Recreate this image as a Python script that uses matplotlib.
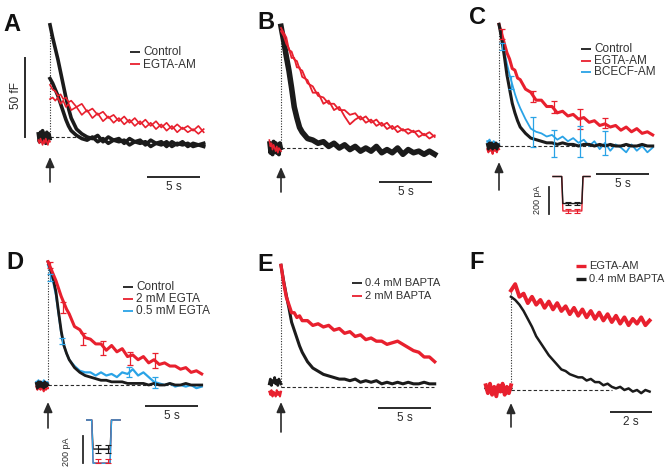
import matplotlib
matplotlib.use("Agg")
import matplotlib.pyplot as plt

plt.rcParams['font.family'] = ['Liberation Sans', 'DejaVu Sans']

# --- DATA (capacitance in fF, time in s after the stimulus) ---
T_PRE = [-1.1, -1.0, -0.9, -0.8, -0.7, -0.6, -0.5, -0.4, -0.3, -0.2, -0.1, 0.0]
T_POST = [0, 0.25, 0.5, 0.75, 1.0, 1.25, 1.5, 1.75, 2.0, 2.5, 3.0, 3.5, 4.0, 4.5, 5.0, 5.5, 6.0,
          6.5, 7.0, 7.5, 8.0, 8.5, 9.0, 9.5, 10.0, 10.5, 11.0, 11.5, 12.0, 12.5, 13.0, 13.5, 14.0, 14.5]
T_PRE_F = [-1.2, -1.1, -1.0, -0.9, -0.8, -0.7, -0.6, -0.5, -0.4, -0.3, -0.2, -0.1, 0.0]
T_POST_F = [0, 0.2, 0.4, 0.6, 0.8, 1.0, 1.2, 1.4, 1.6, 1.8, 2.0, 2.2, 2.4, 2.6, 2.8, 3.0, 3.2,
            3.4, 3.6, 3.8, 4.0, 4.2, 4.4, 4.6, 4.8, 5.0, 5.2, 5.4, 5.6, 5.8, 6.0, 6.2, 6.4, 6.6]

# A
A_PRE_CTRL = [2, -3, 3, -2, 4, -3, 2, -4, 3, -2, 2, -1]
A_PRE_EGTA = [-2, -4, -1, -3, -5, -2, -4, -1, -3, -5, -2, -3]
A_CTRL_HI = [71, 63, 56, 49, 41, 33, 25, 18, 12, 5, 2, 0, -1, 1, -3, 0, -2, -1, -4, -1, -3, -2,
             -5, -2, -4, -3, -6, -3, -5, -3, -6, -4, -5, -4]
A_CTRL_LO = [37, 34, 30, 26, 21, 16, 11, 7, 4, 1, -1, -2, 0, -3, -1, -4, -2, -3, -2, -5, -3, -4,
             -3, -6, -4, -5, -3, -6, -4, -5, -4, -6, -5, -6]
A_EGTA_HI = [33, 30, 29, 26, 27, 24, 25, 22, 23, 19, 21, 16, 18, 14, 16, 12, 14, 10, 13, 9, 12, 8,
             11, 7, 10, 6, 9, 5, 8, 5, 7, 4, 7, 3]
A_EGTA_LO = [24, 25, 23, 25, 21, 23, 19, 21, 17, 19, 14, 17, 12, 15, 10, 13, 9, 12, 8, 11, 7, 10,
             6, 9, 5, 8, 4, 7, 3, 6, 3, 5, 2, 5]

# B
B_PRE_CTRL = [3, -3, 2, -4, 4, -2, 3, -3, 2, -4, 3, 0]
B_PRE_EGTA = [5, 1, 3, -1, 2, 0, -2, 1, -3, 0, -1, -2]
B_CTRL = [77, 68, 58, 49, 38, 26, 19, 13, 10, 6, 5, 3, 4, 1, 3, 0, 2, -1, 1, -2, 0, -2, 1, -3,
          -1, -3, 0, -4, -1, -3, -2, -4, -2, -4]
B_EGTA_HI = [76, 73, 70, 62, 61, 56, 55, 50, 49, 41, 39, 33, 32, 28, 28, 24, 24, 21, 22, 18, 20,
             16, 18, 14, 16, 12, 14, 11, 12, 10, 11, 8, 10, 7]
B_EGTA_LO = [74, 71, 66, 63, 57, 57, 51, 51, 45, 43, 35, 35, 28, 30, 24, 26, 20, 15, 18, 20, 16,
             18, 14, 16, 12, 14, 10, 12, 9, 11, 7, 9, 6, 8]

# C
C_PRE_CTRL = [1, -2, 2, -1, 2, -2, 1, -1, 2, -2, 1, 0]
C_PRE_EGTA = [-2, -4, -1, -3, -2, -5, -1, -3, -2, -4, -1, -2]
C_PRE_BCECF = [3, 0, 4, -1, 2, 1, 3, -2, 1, 2, 0, 1]
C_CTRL = [77, 68, 57, 45, 36, 27, 21, 16, 12, 8, 5, 4, 3, 2, 2, 1, 2, 1, 1, 0, 1, 1, 0, 1, 0, 1,
          0, 0, 1, 0, 0, 1, 0, 0]
C_EGTA = [77, 71, 65, 59, 55, 49, 48, 43, 42, 36, 34, 29, 29, 25, 25, 21, 22, 19, 20, 17, 18, 15,
          16, 13, 14, 12, 13, 10, 12, 9, 11, 8, 9, 7]
C_BCECF = [77, 69, 60, 52, 45, 39, 33, 28, 24, 17, 11, 9, 8, 6, 7, 4, 6, 3, 5, 2, 4, 0, 3, -2, 2,
           -3, 1, -1, -4, 1, -3, 0, -4, -1]
C_EGTA_ERR_T = [0.3, 3.2, 5.2, 7.6, 10.0]
C_EGTA_ERR_Y = [71, 31.5, 24.5, 17, 14.5]
C_EGTA_ERR = [3, 3.5, 3.7, 6.5, 3.2]
C_BCECF_ERR_T = [0.3, 1.1, 3.2, 5.2, 7.6, 10.0]
C_BCECF_ERR_Y = [63, 40, 9, 1.6, 3, 1.7]
C_BCECF_ERR = [2, 4, 9.5, 8.4, 9.8, 7.5]

# D
D_PRE_CTRL = [1, -2, 2, -1, 2, -1, 1, -2, 2, -1, 1, 0]
D_PRE_EGTA = [-1, -3, 0, -2, -3, -1, -2, -4, -1, -3, -2, -2]
D_PRE_05 = [2, 0, 3, 1, -1, 2, 0, 3, 1, -1, 2, 1]
D_CTRL = [78, 73, 67, 59, 46, 34, 25, 20, 16, 11, 8, 6, 5, 4, 3, 3, 2, 2, 2, 1, 1, 1, 1, 0, 1, 0,
          0, 1, 0, 0, 1, 0, 0, 0]
D_EGTA2 = [78, 74, 70, 66, 61, 56, 52, 48, 45, 37, 35, 30, 29, 26, 26, 22, 25, 21, 23, 18, 19, 16,
           18, 14, 16, 13, 14, 12, 12, 10, 11, 8, 9, 7]
D_05 = [76, 71, 65, 57, 45, 33, 25, 20, 16, 12, 9, 8, 8, 6, 8, 6, 7, 5, 8, 7, 10, 6, 8, 5, 2, 1,
        0, 1, -1, 0, -1, 0, -2, -1]
D_EGTA_ERR_T = [0.2, 1.45, 3.3, 5.2, 7.7, 10.1]
D_EGTA_ERR_Y = [76, 49, 29, 23.4, 17, 15.5]
D_EGTA_ERR = [2, 3.7, 3.7, 4.4, 4.2, 4.7]
D_05_ERR_T = [0.2, 1.3, 7.6, 10.1]
D_05_ERR_Y = [68, 28, 8.4, 1.6]
D_05_ERR = [2, 2, 3.2, 3.7]

# E
E_PRE_04 = [2, 5, 1, 4, 3, 6, 2, 4, 1, 5, 3, 2]
E_PRE_2 = [-3, -5, -2, -6, -3, -4, -6, -2, -5, -3, -6, -3]
E_BAPTA04 = [77, 67, 58, 50, 41, 36, 31, 26, 22, 16, 12, 10, 8, 7, 6, 5, 5, 4, 5, 3, 4, 3, 4, 2,
             3, 2, 3, 2, 3, 2, 2, 3, 2, 2]
E_BAPTA2 = [77, 66, 57, 52, 47, 47, 44, 45, 42, 42, 39, 40, 38, 39, 36, 37, 34, 35, 32, 33, 30,
            31, 29, 29, 27, 28, 29, 27, 25, 23, 22, 19, 19, 16]

# F
F_PRE_EGTA = [3, -2, 4, -3, 2, -4, 3, -1, 4, -3, 2, -2, 3]
F_PRE_BAPTA = [1, -1, 2, -2, 1, 0, -1, 2, -1, 1, -2, 0, 1]
F_EGTA = [63, 67, 59, 61, 55, 59, 54, 57, 52, 56, 51, 55, 50, 53, 48, 52, 47, 51, 46, 50, 45, 49,
          44, 48, 43, 47, 42, 46, 41, 45, 42, 46, 41, 44]
F_BAPTA = [59, 57, 54, 50, 45, 40, 34, 30, 26, 22, 19, 16, 13, 12, 10, 9, 8, 8, 6, 7, 5, 5, 3, 4,
           2, 1, 2, 0, 1, -1, 0, -2, 0, -1]

# Ca current insets (time in ms, current in pA)
C_PULSE_T = [-95, -8, 4, 193, 205, 275]
C_I_CTRL = [0, 0, -200, -200, 0, 0]
C_I_EGTA = [0, 0, -255, -255, 0, 0]
C_I_ERR_T = [55, 145]
D_PULSE_T = [-56, -6, 8, 178, 192, 277]
D_I_CTRL = [0, 0, -215, -215, 0, 0]
D_I_EGTA = [0, 0, -318, -318, 0, 0]
D_I_05 = [0, 0, -320, -320, 0, 0]
D_I_ERR_T = [54, 160]

BLACK = '#1b1b1b'
RED = '#e8202e'
BLUE = '#2aa3e6'
INK = '#2a2a2a'

W, H = 665, 476
PPF = 1.58  # pixels per fF
PANELS = {
    'A': dict(box=(0, 0, 222, 240), xs=50, yb=137, pps=10.6),
    'B': dict(box=(222, 0, 444, 240), xs=281, yb=148, pps=10.6),
    'C': dict(box=(444, 0, 665, 240), xs=499, yb=146, pps=10.6),
    'D': dict(box=(0, 240, 222, 476), xs=48, yb=385, pps=10.6),
    'E': dict(box=(222, 240, 444, 476), xs=281, yb=387, pps=10.6),
    'F': dict(box=(444, 240, 665, 476), xs=511, yb=390, pps=21.0),
}

fig = plt.figure(figsize=(W / 100, H / 100), dpi=100)


def dpt(p, xp, yp):
    return (xp - p['xs']) / p['pps'], (p['yb'] - yp) / PPF


def panel_axes(p):
    x0, y0, x1, y1 = p['box']
    ax = fig.add_axes([x0 / W, 1 - y1 / H, (x1 - x0) / W, (y1 - y0) / H])
    ax.set_xlim(dpt(p, x0, 0)[0], dpt(p, x1, 0)[0])
    ax.set_ylim(dpt(p, 0, y1)[1], dpt(p, 0, y0)[1])
    ax.axis('off')
    return ax


def frame(ax, p, letter, letter_px, peak, dash_to, arrow_px, bar_px, bar_len, bar_label):
    lx, ly = dpt(p, *letter_px)
    ax.text(lx, ly, letter, fontsize=17, fontweight='bold', ha='left', va='top', color='#111')
    ax.plot([0, 0], [0, peak], color=INK, lw=0.8, ls=(0, (1, 1.4)), zorder=1)
    ax.plot([0, dash_to], [0, 0], color=INK, lw=0.8, ls=(0, (3, 2)), zorder=1)
    ax.annotate('', xy=dpt(p, arrow_px[0], arrow_px[2]), xytext=dpt(p, arrow_px[0], arrow_px[1]),
                arrowprops=dict(arrowstyle='-|>,head_length=0.5,head_width=0.22', lw=1.2,
                                color=INK, shrinkA=0, shrinkB=0, mutation_scale=12))
    bx, by = dpt(p, bar_px[0], bar_px[1])
    ax.plot([bx, bx + bar_len], [by, by], color=INK, lw=1.4, solid_capstyle='butt')
    ax.text(bx + bar_len / 2, by - 4 / PPF, bar_label, ha='center', va='top', fontsize=8.5, color=INK)


def legend(ax, p, items, x_px, y_px, dy, fs=8.5, lw=1.3):
    for i, (label, color) in enumerate(items):
        y = y_px + i * dy
        a, b = dpt(p, x_px, y)
        c, _ = dpt(p, x_px + 10, y)
        ax.plot([a, c], [b, b], color=color, lw=lw, solid_capstyle='butt')
        ax.text(dpt(p, x_px + 13, y)[0], b, label, va='center', ha='left', fontsize=fs, color='#333')


def inset(rect, t0, i0, ms_px=10.0, pa_px=7.4):
    x0, y0, x1, y1 = rect
    ax = fig.add_axes([x0 / W, 1 - y1 / H, (x1 - x0) / W, (y1 - y0) / H])
    ax.set_xlim((x0 - t0) * ms_px, (x1 - t0) * ms_px)
    ax.set_ylim(-(y1 - i0) * pa_px, -(y0 - i0) * pa_px)
    ax.axis('off')
    return ax


# ---- A ----
p = PANELS['A']
ax = panel_axes(p)
ax.plot(T_PRE, A_PRE_CTRL, color=BLACK, lw=2.6)
ax.plot(T_PRE, A_PRE_EGTA, color=RED, lw=1.2)
ax.plot(T_POST, A_CTRL_HI, color=BLACK, lw=2.6)
ax.plot(T_POST, A_CTRL_LO, color=BLACK, lw=2.6)
ax.plot(T_POST, A_EGTA_HI, color=RED, lw=1.2)
ax.plot(T_POST, A_EGTA_LO, color=RED, lw=1.2)
frame(ax, p, 'A', (3, 13), 71, 2.5, (50, 182, 157), (147, 177), 5, '5 s')
bx = dpt(p, 25, 0)[0]
ax.plot([bx, bx], [0, 50], color=INK, lw=1.4)
ax.text(dpt(p, 16, 0)[0], 26, '50 fF', rotation=90, ha='center', va='center', fontsize=8.5, color=INK)
legend(ax, p, [('Control', BLACK), ('EGTA-AM', RED)], 130, 52, 12.5)

# ---- B ----
p = PANELS['B']
ax = panel_axes(p)
ax.plot(T_PRE, B_PRE_CTRL, color=BLACK, lw=3.0)
ax.plot(T_PRE, B_PRE_EGTA, color=RED, lw=1.2)
ax.plot(T_POST, B_CTRL, color=BLACK, lw=4.0)
ax.plot(T_POST, B_EGTA_HI, color=RED, lw=1.3)
ax.plot(T_POST, B_EGTA_LO, color=RED, lw=1.3)
frame(ax, p, 'B', (257, 11), 77, 4.0, (281, 192, 167), (379, 182), 5, '5 s')

# ---- C ----
p = PANELS['C']
ax = panel_axes(p)
ax.plot(T_PRE, C_PRE_BCECF, color=BLUE, lw=1.5)
ax.plot(T_PRE, C_PRE_EGTA, color=RED, lw=1.5)
ax.plot(T_PRE, C_PRE_CTRL, color=BLACK, lw=2.0)
ax.plot(T_POST, C_BCECF, color=BLUE, lw=1.3)
ax.plot(T_POST, C_EGTA, color=RED, lw=2.2)
ax.plot(T_POST, C_CTRL, color=BLACK, lw=2.2)
ax.errorbar(C_EGTA_ERR_T, C_EGTA_ERR_Y, yerr=C_EGTA_ERR, fmt='none', ecolor=RED,
            elinewidth=0.9, capsize=2, capthick=0.9)
ax.errorbar(C_BCECF_ERR_T, C_BCECF_ERR_Y, yerr=C_BCECF_ERR, fmt='none', ecolor=BLUE,
            elinewidth=0.9, capsize=2, capthick=0.9)
frame(ax, p, 'C', (469, 6), 77, 14.4, (499, 190, 162), (596, 174), 5, '5 s')
legend(ax, p, [('Control', BLACK), ('EGTA-AM', RED), ('BCECF-AM', BLUE)], 581, 49, 11.5)

ai = inset((528, 168, 600, 222), 562.5, 176.5)
ai.plot(C_PULSE_T, C_I_EGTA, color=RED, lw=1.0)
ai.plot(C_PULSE_T, C_I_CTRL, color=BLACK, lw=1.0)
ai.errorbar(C_I_ERR_T, [C_I_EGTA[2]] * 2, yerr=13, fmt='none', ecolor=RED, elinewidth=0.8,
            capsize=2, capthick=0.8)
ai.errorbar(C_I_ERR_T, [C_I_CTRL[2]] * 2, yerr=13, fmt='none', ecolor=BLACK, elinewidth=0.8,
            capsize=2, capthick=0.8)
ai.plot([-135, -135], [-75, -275], color=INK, lw=1.3)
ai.text(-255, -175, '200 pA', rotation=90, ha='center', va='center', fontsize=6.5, color=INK)

# ---- D ----
p = PANELS['D']
ax = panel_axes(p)
ax.plot(T_PRE, D_PRE_05, color=BLUE, lw=1.5)
ax.plot(T_PRE, D_PRE_EGTA, color=RED, lw=1.5)
ax.plot(T_PRE, D_PRE_CTRL, color=BLACK, lw=2.0)
ax.plot(T_POST, D_05, color=BLUE, lw=1.6)
ax.plot(T_POST, D_CTRL, color=BLACK, lw=2.0)
ax.plot(T_POST, D_EGTA2, color=RED, lw=2.2)
ax.errorbar(D_EGTA_ERR_T, D_EGTA_ERR_Y, yerr=D_EGTA_ERR, fmt='none', ecolor=RED,
            elinewidth=0.9, capsize=2, capthick=0.9)
ax.errorbar(D_05_ERR_T, D_05_ERR_Y, yerr=D_05_ERR, fmt='none', ecolor=BLUE,
            elinewidth=0.9, capsize=2, capthick=0.9)
frame(ax, p, 'D', (6, 251), 78, 14.5, (48, 428, 402), (145, 406), 5, '5 s')
legend(ax, p, [('Control', BLACK), ('2 mM EGTA', RED), ('0.5 mM EGTA', BLUE)], 123, 287, 12)

ai = inset((55, 414, 125, 470), 92.3, 420)
ai.plot(D_PULSE_T, D_I_CTRL, color=BLACK, lw=1.0)
ai.plot(D_PULSE_T, D_I_EGTA, color=RED, lw=1.0)
ai.plot(D_PULSE_T, D_I_05, color=BLUE, lw=1.0)
ai.errorbar(D_I_ERR_T, [D_I_EGTA[2] + 15] * 2, yerr=18, fmt='none', ecolor=RED, elinewidth=0.8,
            capsize=2, capthick=0.8)
ai.errorbar(D_I_ERR_T, [D_I_CTRL[2]] * 2, yerr=28, fmt='none', ecolor=BLACK, elinewidth=0.8,
            capsize=2, capthick=0.8)
ai.plot(D_I_ERR_T, [D_I_CTRL[2]] * 2, color=BLACK, lw=0.8)
ai.plot([-90, -90], [-120, -320], color=INK, lw=1.3)
ai.text(-256, -235, '200 pA', rotation=90, ha='center', va='center', fontsize=6.5, color=INK)

# ---- E ----
p = PANELS['E']
ax = panel_axes(p)
ax.plot(T_PRE, E_PRE_2, color=RED, lw=1.5)
ax.plot(T_PRE, E_PRE_04, color=BLACK, lw=2.0)
ax.plot(T_POST, E_BAPTA04, color=BLACK, lw=2.2)
ax.plot(T_POST, E_BAPTA2, color=RED, lw=2.4)
frame(ax, p, 'E', (257, 253), 77, 14.4, (281, 432, 402), (378, 408), 5, '5 s')
legend(ax, p, [('0.4 mM BAPTA', BLACK), ('2 mM BAPTA', RED)], 352, 283, 13, fs=8)

# ---- F ----
p = PANELS['F']
ax = panel_axes(p)
ax.plot(T_PRE_F, F_PRE_BAPTA, color=BLACK, lw=2.0)
ax.plot(T_PRE_F, F_PRE_EGTA, color=RED, lw=2.8)
ax.plot(T_POST_F, F_BAPTA, color=BLACK, lw=1.8)
ax.plot(T_POST_F, F_EGTA, color=RED, lw=2.8)
frame(ax, p, 'F', (469, 251), 62, 4.8, (511, 427, 403), (610, 412), 2, '2 s')
legend(ax, p, [('EGTA-AM', RED), ('0.4 mM BAPTA', BLACK)], 576, 266, 13, fs=8, lw=2.4)

fig.savefig('out.png', dpi=100)
